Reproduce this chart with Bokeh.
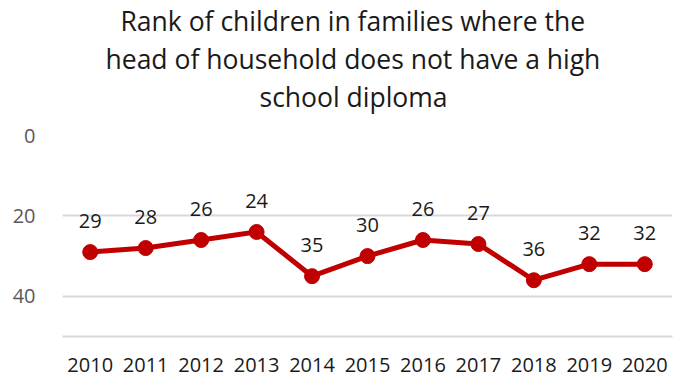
from bokeh.plotting import figure
from bokeh.models import Range1d, FixedTicker, ColumnDataSource, Title
from bokeh.embed import file_html
from bokeh.resources import INLINE
from bokeh.core.properties import value

years = ["2010", "2011", "2012", "2013", "2014", "2015", "2016", "2017", "2018", "2019", "2020"]
ranks = [29, 28, 26, 24, 35, 30, 26, 27, 36, 32, 32]
y_tick_values = [0, 20, 40]
y_grid_values = [0, 20, 40]
title_lines = [
    "Rank of children in families where the",
    "head of household does not have a high",
    "school diploma",
]
# horizontal offsets (px from the plot frame's left edge) that centre each title line
title_offsets = [58, 43, 197]

src = ColumnDataSource(dict(year=years, rank=ranks, label=[str(r) for r in ranks]))

p = figure(
    x_range=years,
    y_range=Range1d(50, 0),
    width=683,
    height=376,
    output_backend="svg",
    toolbar_location=None,
    min_border_left=62,
    min_border_right=11,
    min_border_top=133,
    min_border_bottom=40,
)
p.outline_line_color = None
p.background_fill_color = "white"
p.border_fill_color = "white"
p.title = None

# blank spacer between the title block and the plot area
p.add_layout(Title(text=" ", standoff=0, text_font="Open Sans",
                   text_font_size="14.5px", text_color="white"), "above")
n = len(title_lines)
for i in reversed(range(n)):
    t = Title(text=title_lines[i], align="left", offset=title_offsets[i], standoff=0,
              text_font="Open Sans", text_font_size="26.5px",
              text_font_style="normal", text_color="#1a1a1a")
    p.add_layout(t, "above")

p.xgrid.grid_line_color = None
p.ygrid.ticker = FixedTicker(ticks=y_grid_values)
p.ygrid.grid_line_color = "#d9d9d9"
p.ygrid.grid_line_width = 2

p.yaxis.ticker = FixedTicker(ticks=y_tick_values)
p.yaxis.axis_line_color = None
p.yaxis.major_tick_line_color = None
p.yaxis.minor_tick_line_color = None
p.yaxis.major_label_text_font = "Open Sans"
p.yaxis.major_label_text_font_size = "20px"
p.yaxis.major_label_text_color = "#595959"
p.yaxis.major_label_standoff = 21

p.xaxis.axis_line_color = "#d9d9d9"
p.xaxis.axis_line_width = 2
p.xaxis.major_tick_line_color = None
p.xaxis.minor_tick_line_color = None
p.xaxis.major_label_text_font = "Open Sans"
p.xaxis.major_label_text_font_size = "20px"
p.xaxis.major_label_text_color = "#1a1a1a"
p.xaxis.major_label_standoff = 15

p.line(x="year", y="rank", source=src, line_color="#c00000", line_width=5)
p.scatter(x="year", y="rank", source=src, size=15, fill_color="#c00000", line_color="#c00000")
p.text(x="year", y="rank", text="label", source=src, y_offset=-31,
       text_align="center", text_baseline="middle",
       text_font=value("Open Sans"), text_font_size="20px", text_color="#1a1a1a")

open("out.html", "w").write(file_html(p, INLINE))
